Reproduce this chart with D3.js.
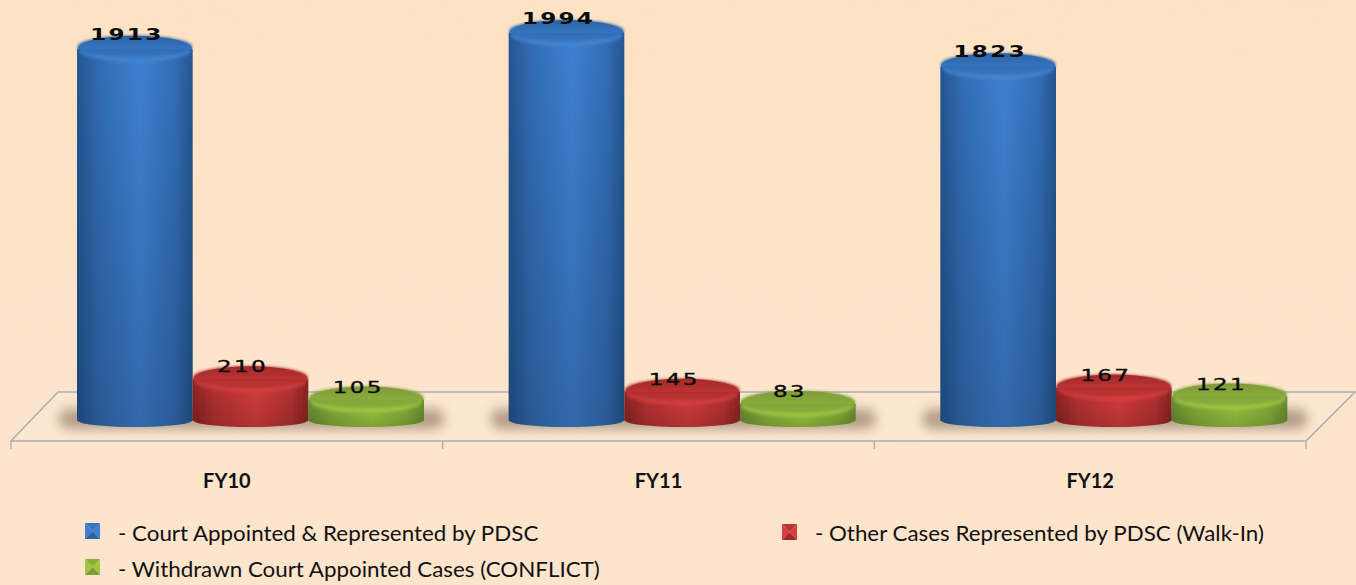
<!DOCTYPE html>
<html>
<head>
<meta charset="utf-8">
<script src="https://cdn.jsdelivr.net/npm/d3@7"></script>
<style>
  html, body { margin: 0; padding: 0; background: #fde5cd; overflow: hidden; }
  svg { display: block; }
  .legend-text { font-family: Lato, "Open Sans", sans-serif; font-size: 21.5px; fill: #111; }
  .value-label { font-family: "DejaVu Sans", sans-serif; font-size: 16.5px; fill: #0a0a0a; letter-spacing: 1.6px; }
  .value-label.big { font-weight: bold; }
  .value-label.small { letter-spacing: 1.6px; stroke: #0a0a0a; stroke-width: 0.35px; }
  .axis text { font-family: Lato, "Open Sans", sans-serif; font-size: 20px; font-weight: bold; fill: #111; }
</style>
</head>
<body>
<div id="chart"></div>
<script>
/* DATA */
const categories = ["FY10", "FY11", "FY12"];
const seriesNames = [
  "- Court Appointed & Represented by PDSC",
  "- Other Cases Represented by PDSC (Walk-In)",
  "- Withdrawn Court Appointed Cases (CONFLICT)"
];
const courtAppointed = [1913, 1994, 1823];
const otherCases = [210, 145, 167];
const withdrawn = [105, 83, 121];

/* CONSTANTS AND GLOBALS */
const width = 1356, height = 585;
const floorFront = 441, floorBack = 392, depth = 47; // the "3D" floor is only a skewed outline
const baseY = 420;
const topRy = 13, bottomRy = 7;
const palette = [
  { edge: "#245691", mid: "#3d80d2", top1: "#2b62a3", top2: "#3674c0", rim: "#4a8ad8" },
  { edge: "#8e2424", mid: "#da3d3d", top1: "#a32a2a", top2: "#bb3232", rim: "#d94343" },
  { edge: "#6a8e30", mid: "#9cc840", top1: "#7d9b39", top2: "#8aac3b", rim: "#a4cf48" }
];

const svg = d3.select("#chart").append("svg")
  .attr("width", width)
  .attr("height", height);
const defs = svg.append("defs");

// background gradient with a little paper noise, reference has a mottled texture
const bg = defs.append("linearGradient").attr("id", "bg").attr("x1", 0).attr("x2", 0).attr("y1", 0).attr("y2", 1);
bg.append("stop").attr("offset", "0%").attr("stop-color", "#fee2c4");
bg.append("stop").attr("offset", "60%").attr("stop-color", "#fde5cc");
bg.append("stop").attr("offset", "100%").attr("stop-color", "#fde4cc");
const noise = defs.append("filter").attr("id", "noise").attr("x", 0).attr("y", 0).attr("width", "100%").attr("height", "100%");
noise.append("feTurbulence").attr("type", "fractalNoise").attr("baseFrequency", "0.012 0.03").attr("numOctaves", 3).attr("seed", 4);
noise.append("feColorMatrix").attr("values", "0 0 0 0 0.85  0 0 0 0 0.68  0 0 0 0 0.5  0 0 0 0.35 -0.1");

defs.append("filter").attr("id", "soft").append("feGaussianBlur").attr("stdDeviation", 0.6);
defs.append("filter").attr("id", "softer").attr("x", "-20%").attr("y", "-50%").attr("width", "140%").attr("height", "200%")
  .append("feGaussianBlur").attr("stdDeviation", 1.6);
defs.append("filter").attr("id", "shadow").attr("x", "-20%").attr("y", "-100%").attr("width", "140%").attr("height", "300%")
  .append("feGaussianBlur").attr("stdDeviation", 6);

palette.forEach((c, i) => {
  const body = defs.append("linearGradient").attr("id", `body${i}`);
  body.append("stop").attr("offset", "0%").attr("stop-color", c.edge);
  body.append("stop").attr("offset", "20%").attr("stop-color", d3.interpolateRgb(c.edge, c.mid)(0.55));
  body.append("stop").attr("offset", "55%").attr("stop-color", c.mid);
  body.append("stop").attr("offset", "85%").attr("stop-color", d3.interpolateRgb(c.edge, c.mid)(0.55));
  body.append("stop").attr("offset", "100%").attr("stop-color", c.edge);
  const top = defs.append("linearGradient").attr("id", `top${i}`).attr("x1", 0).attr("x2", 0).attr("y1", 0).attr("y2", 1);
  top.append("stop").attr("offset", "0%").attr("stop-color", c.top1);
  top.append("stop").attr("offset", "100%").attr("stop-color", c.top2);
});
// tall bars get a bit darker near the floor
const fade = defs.append("linearGradient").attr("id", "fade").attr("x1", 0).attr("x2", 0).attr("y1", 0).attr("y2", 1);
fade.append("stop").attr("offset", "0%").attr("stop-color", "#000").attr("stop-opacity", 0);
fade.append("stop").attr("offset", "100%").attr("stop-color", "#000").attr("stop-opacity", 0.18);

svg.append("rect").attr("width", width).attr("height", height).attr("fill", "url(#bg)");
svg.append("rect").attr("width", width).attr("height", height).attr("filter", "url(#noise)").attr("opacity", 0.1);

/* SCALES */
const xScale = d3.scaleBand().domain(categories).range([11, 1306]);
const groupScale = d3.scaleBand().domain(d3.range(seriesNames.length)).range([66, 413]);
const yScale = d3.scaleLinear().domain([0, 1994]).range([baseY, 33]);

/* FLOOR */
const floorColor = "#a9adb3";
const x0 = xScale.range()[0], x1 = xScale.range()[1];
svg.append("path")
  .attr("d", `M${x0},${floorFront} L${x0 + depth},${floorBack} L${x1 + 49},${floorBack} L${x1},${floorFront} Z`)
  .attr("fill", "#fdeedd")
  .attr("fill-opacity", 0.3)
  .attr("stroke", floorColor)
  .attr("stroke-width", 1.5);

// axis gives the labels, ticks go on the band edges like the original
const xAxis = d3.axisBottom(xScale).tickSize(0).tickPadding(33);
const axisG = svg.append("g").attr("class", "axis").attr("transform", `translate(0, ${floorFront})`).call(xAxis);
axisG.select(".domain").remove();
svg.selectAll(".edge-tick")
  .data(categories.map(c => xScale(c)).concat([x1]))
  .join("line")
  .attr("class", "edge-tick")
  .attr("x1", d => d).attr("x2", d => d)
  .attr("y1", floorFront).attr("y2", floorFront + 8)
  .attr("stroke", floorColor)
  .attr("stroke-width", 1.3);

/* CYLINDERS */
const allSeries = [courtAppointed, otherCases, withdrawn];

// shadows first so they stay under every bar
categories.forEach(c => {
  svg.append("rect")
    .attr("x", xScale(c) + groupScale(0) - 18)
    .attr("y", 409)
    .attr("width", groupScale.bandwidth() * 3 + 38)
    .attr("height", 20)
    .attr("rx", 9)
    .attr("fill", "#6b5240")
    .attr("opacity", 0.5)
    .attr("filter", "url(#shadow)");
});

categories.forEach((c, ci) => {
  allSeries.forEach((values, si) => {
    const v = values[ci];
    const left = xScale(c) + groupScale(si);
    const bw = groupScale.bandwidth();
    const rx = bw / 2;
    const cx = left + rx;
    const yTop = yScale(v);
    const g = svg.append("g");
    const bodyPath = `M${left},${yTop} L${left},${baseY} A${rx},${bottomRy} 0 0 0 ${left + bw},${baseY} L${left + bw},${yTop} Z`;

    g.append("path")
      .attr("d", bodyPath)
      .attr("fill", `url(#body${si})`)
      .attr("filter", "url(#soft)");
    g.append("path")
      .attr("d", bodyPath)
      .attr("fill", "url(#fade)");

    // lighter bevel under the top face
    g.append("ellipse")
      .attr("cx", cx).attr("cy", yTop + 2)
      .attr("rx", rx - 2).attr("ry", topRy - 2)
      .attr("fill", palette[si].rim)
      .attr("opacity", 0.7)
      .attr("filter", "url(#softer)");
    g.append("ellipse")
      .attr("cx", cx).attr("cy", yTop - 2)
      .attr("rx", rx - 0.5).attr("ry", topRy - 2)
      .attr("fill", `url(#top${si})`)
      .attr("filter", "url(#softer)");
    // second pass only for the crisp back edge of the top face
    g.append("path")
      .attr("d", `M${left + 0.5},${yTop} A${rx - 0.5},${topRy} 0 0 1 ${left + bw - 0.5},${yTop} Z`)
      .attr("fill", `url(#top${si})`)
      .attr("filter", "url(#soft)");

    const big = v >= 1000;
    svg.append("text")
      .attr("class", `value-label ${big ? "big" : "small"}`)
      .attr("text-anchor", "middle")
      .attr("transform", `translate(${cx - 8}, ${yTop - (big ? 9 : 7)}) scale(1.4, 1)`)
      .text(v);
  });
});

/* LEGEND */
const legendItems = [
  { i: 0, x: 85, y: 523, tx: 118, ty: 541 },
  { i: 1, x: 782, y: 524, tx: 815, ty: 541 },
  { i: 2, x: 85, y: 559, tx: 118, ty: 577 }
];
legendItems.forEach(d => {
  const w = 15, h = 16, c = palette[d.i];
  const g = svg.append("g").attr("transform", `translate(${d.x}, ${d.y})`).attr("filter", "url(#soft)");
  // four triangles give the little pyramid marker
  g.append("path").attr("d", `M0,0 L${w},0 L${w / 2},${h / 2} Z`).attr("fill", c.top2);
  g.append("path").attr("d", `M0,0 L0,${h} L${w / 2},${h / 2} Z`).attr("fill", c.mid);
  g.append("path").attr("d", `M${w},0 L${w},${h} L${w / 2},${h / 2} Z`).attr("fill", c.mid);
  g.append("path").attr("d", `M0,${h} L${w},${h} L${w / 2},${h / 2} Z`).attr("fill", c.top1);
  // Calibri is wider here than Lato, stretch it a bit
  svg.append("text").attr("class", "legend-text")
    .attr("transform", `translate(${d.tx}, ${d.ty}) scale(1.04, 1)`)
    .text(seriesNames[d.i]);
});
</script>
</body>
</html>
